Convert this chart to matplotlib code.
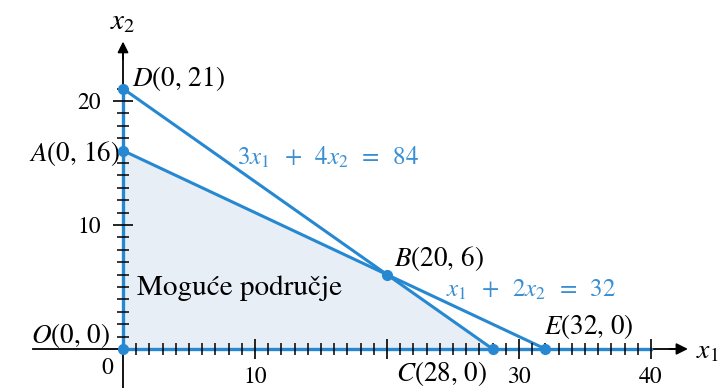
import matplotlib.pyplot as plt
from matplotlib.ticker import FixedLocator

plt.rcParams['font.family'] = 'STIXGeneral'
plt.rcParams['mathtext.fontset'] = 'stix'

# corner points of the problem
names = ['O', 'A', 'B', 'C', 'D', 'E']
px = [0, 0, 20, 28, 0, 32]
py = [0, 16, 6, 0, 21, 0]

# constraints a*x1 + b*x2 = c
con_a = [3, 1]
con_b = [4, 2]
con_c = [84, 32]
con_labels = [r'$3x_1\;\;+\;\;4x_2\;\;=\;\;84$', r'$x_1\;\;+\;\;2x_2\;\;=\;\;32$']

region = ['O', 'A', 'B', 'C']
xticks_major = [10, 20, 30, 40]
xtick_labels = ['10', '', '30', '40']
yticks_major = [10, 20]
ytick_labels = ['10', '20']

blue = '#2788d2'
blue_txt = '#3a8fd3'
fill_col = '#e8eef6'

pt = dict(zip(names, zip(px, py)))

fig = plt.figure(figsize=(7.2, 3.88), dpi=100)
ax = fig.add_axes([0, 0, 1, 1])
ax.set_xlim(-9.32, 45.23)
ax.set_ylim(-3.15, 28.15)

# feasible region
ax.fill([pt[n][0] for n in region], [pt[n][1] for n in region],
        color=fill_col, zorder=1, lw=0)

# constraint lines (from the x2 intercept to the x1 intercept)
for a, b, c in zip(con_a, con_b, con_c):
    ax.plot([0, c / a], [c / b, 0], color=blue, lw=2.2, zorder=2.4,
            solid_capstyle='round')
# non-negativity lines
ax.plot([0, 0], [0, pt['D'][1]], color=blue, lw=2.4, zorder=2.4)
ax.plot([0, 40], [0, 0], color=blue, lw=2.4, zorder=2.4)

ax.plot(px, py, 'o', color=blue, ms=7, zorder=5)

# axes through the origin
for s in ['top', 'right']:
    ax.spines[s].set_visible(False)
ax.spines['bottom'].set_position(('data', 0))
ax.spines['left'].set_position(('data', 0))
ax.spines['bottom'].set_bounds(-6.8, 41.8)
ax.spines['left'].set_bounds(-3.2, 24.0)
for s in ['bottom', 'left']:
    ax.spines[s].set_linewidth(1.3)
    ax.spines[s].set_zorder(2.3)
ax.set_axisbelow(False)

ax.annotate('', xy=(42.8, 0), xytext=(41.4, 0),
            arrowprops=dict(arrowstyle='-|>', color='black', lw=1.3,
                            mutation_scale=17, shrinkA=0, shrinkB=0))
ax.annotate('', xy=(0, 24.8), xytext=(0, 23.4),
            arrowprops=dict(arrowstyle='-|>', color='black', lw=1.3,
                            mutation_scale=16, shrinkA=0, shrinkB=0))

ax.set_xticks(xticks_major)
ax.set_xticklabels(xtick_labels)
ax.set_yticks(yticks_major)
ax.set_yticklabels(ytick_labels)
ax.xaxis.set_minor_locator(FixedLocator([v for v in range(1, 41) if v not in xticks_major]))
ax.yaxis.set_minor_locator(FixedLocator([v for v in range(1, 22) if v not in yticks_major]))
ax.tick_params(which='major', direction='inout', length=14, width=1.2,
               labelsize=17)
ax.tick_params(which='minor', direction='inout', length=8.5, width=1.1)
ax.tick_params(axis='x', which='major', pad=6)
ax.tick_params(axis='y', which='major', pad=9)

# text labels
fs = 19.5
ax.text(-1.2, -1.6, '0', fontsize=17, ha='center', va='center')
ax.text(0, 26.3, r'$x_2$', fontsize=21, ha='center', va='center')
ax.text(43.4, -0.2, r'$x_1$', fontsize=20, ha='left', va='center')
ax.text(0.7, 21.85, r'$D$(0, 21)', fontsize=fs, ha='left', va='center')
ax.text(-0.25, 15.8, r'$A$(0, 16)', fontsize=fs, ha='right', va='center')
ax.text(20.5, 7.3, r'$B$(20, 6)', fontsize=fs, ha='left', va='center')
ax.text(31.9, 1.8, r'$E$(32, 0)', fontsize=fs, ha='left', va='center')
ax.text(20.7, -1.95, r'$C$(28, 0)', fontsize=fs, ha='left', va='center')
ax.text(-1.0, 1.1, r'$O$(0, 0)', fontsize=fs, ha='right', va='center')
ax.text(8.6, 15.4, con_labels[0], fontsize=18, ha='left', va='center', color=blue_txt)
ax.text(24.5, 4.7, con_labels[1], fontsize=18, ha='left', va='center', color=blue_txt)
ax.text(1.06, 4.9, 'Moguće područje', fontsize=21, ha='left', va='center')

fig.savefig('out.png', dpi=100)
